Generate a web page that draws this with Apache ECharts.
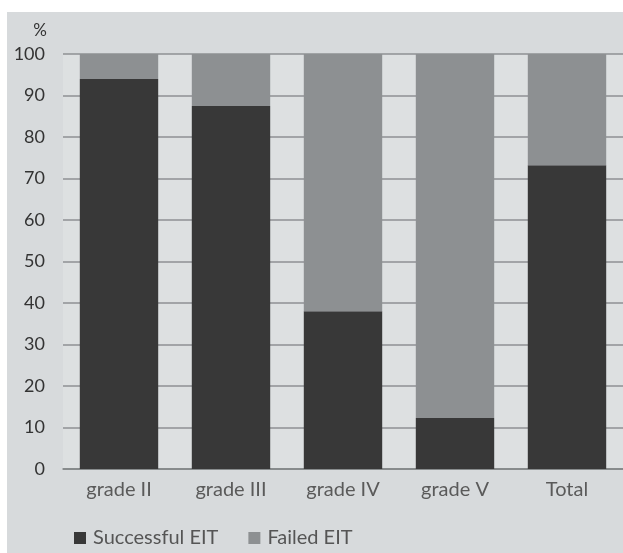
<!DOCTYPE html>
<html>
<head>
<meta charset="utf-8">
<script src="https://cdn.jsdelivr.net/npm/echarts@6/dist/echarts.min.js"></script>
<style>
html,body{margin:0;padding:0;background:#fff;}
#bg{position:absolute;left:7px;top:12px;width:616px;height:541px;background:#d7dadc;}
#chart{position:absolute;left:0;top:0;width:623px;height:553px;}
</style>
</head>
<body>
<div id="bg"></div>
<div id="chart"></div>
<script>
const categories = ['grade II', 'grade III', 'grade IV', 'grade V', 'Total'];
const successful = [94, 87.5, 38, 12.3, 73.2];
const failed = [6, 12.5, 62, 87.7, 26.8];
const yTicks = [0, 10, 20, 30, 40, 50, 60, 70, 80, 90, 100];

const chart = echarts.init(document.getElementById('chart'));
const font = 'Lato, "Open Sans", sans-serif';
chart.setOption({
  backgroundColor: 'transparent',
  animation: false,
  grid: {
    left: 63, right: -3, top: 54, bottom: 84,
    show: true, backgroundColor: '#dde0e1', borderWidth: 0
  },
  legend: {
    left: 69, top: 523,
    icon: 'rect', itemWidth: 12, itemHeight: 12, itemGap: 30,
    textStyle: { fontFamily: font, fontSize: 20, color: '#555', padding: [0, 0, 0, 2] },
    data: ['Successful EIT', 'Failed EIT']
  },
  xAxis: {
    type: 'category',
    data: categories,
    axisLine: { lineStyle: { color: '#7f8284', width: 1.5 } },
    axisTick: { show: false },
    axisLabel: { fontFamily: font, fontSize: 20, color: '#5a5a5a', margin: 11 }
  },
  yAxis: {
    type: 'value',
    min: yTicks[0], max: yTicks[yTicks.length - 1], interval: 10,
    name: '%',
    nameGap: 15,
    nameTextStyle: { fontFamily: font, fontSize: 17, color: '#333', align: 'right', padding: [0, 16, 0, 0] },
    axisLine: { show: false },
    axisTick: { show: false },
    axisLabel: { fontFamily: font, fontSize: 18, color: '#333', margin: 18 },
    splitLine: { lineStyle: { color: '#8e9193', width: 1.5 } }
  },
  series: [
    {
      name: 'Successful EIT', type: 'bar', stack: 'a',
      data: successful, barCategoryGap: '30%',
      itemStyle: { color: '#383838' }
    },
    {
      name: 'Failed EIT', type: 'bar', stack: 'a',
      data: failed, barCategoryGap: '30%',
      itemStyle: { color: '#8d9092' }
    }
  ]
});
</script>
</body>
</html>
